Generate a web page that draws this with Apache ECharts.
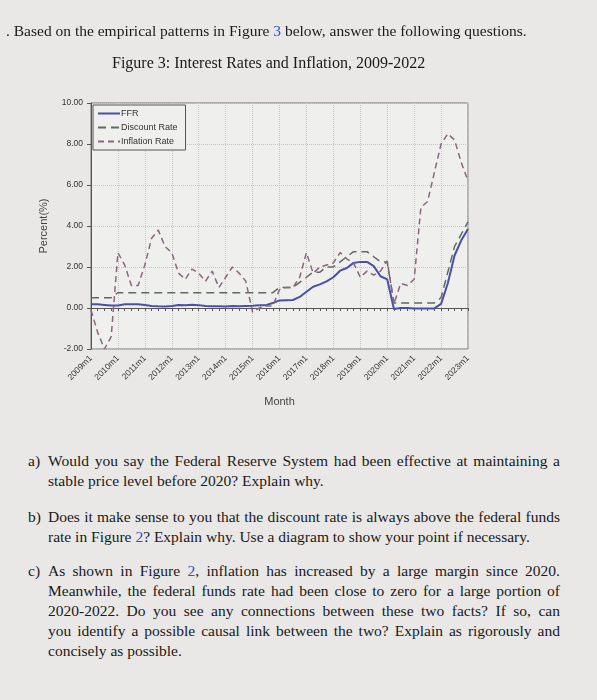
<!DOCTYPE html><html><head><meta charset="utf-8">
<script src="https://cdn.jsdelivr.net/npm/echarts@6/dist/echarts.min.js"></script>
<style>
body{margin:0;width:597px;height:700px;background:#e9e8e6;font-family:"Liberation Serif","DejaVu Serif",serif;color:#1a1a1a;overflow:hidden;position:relative}
.t{position:absolute;font-size:15.5px;white-space:nowrap}
.j{position:absolute;left:48px;width:512px;font-size:15.5px;text-align:justify;text-align-last:justify;white-space:nowrap}
.l{text-align-last:left}
#c{position:absolute;left:0;top:0;width:597px;height:430px}
</style></head><body>
<div id="c"></div>
<div class="t" style="left:6px;top:22px">. Based on the empirical patterns in Figure <span style="color:#2a55c0">3</span> below, answer the following questions.</div>
<div class="t" style="left:112px;top:54px;font-size:16px">Figure 3: Interest Rates and Inflation, 2009-2022</div>
<div class="t" style="left:28px;top:452px">a)</div>
<div class="j" style="top:452px">Would you say the Federal Reserve System had been effective at maintaining a</div>
<div class="j l" style="top:472px">stable price level before 2020? Explain why.</div>
<div class="t" style="left:28px;top:508px">b)</div>
<div class="j" style="top:508px">Does it make sense to you that the discount rate is always above the federal funds</div>
<div class="j l" style="top:528px">rate in Figure <span style="color:#2a55c0">2</span>? Explain why. Use a diagram to show your point if necessary.</div>
<div class="t" style="left:28px;top:562px">c)</div>
<div class="j" style="top:562px">As shown in Figure <span style="color:#2a55c0">2</span>, inflation has increased by a large margin since 2020.</div>
<div class="j" style="top:582px">Meanwhile, the federal funds rate had been close to zero for a large portion of</div>
<div class="j" style="top:602px">2020-2022. Do you see any connections between these two facts? If so, can</div>
<div class="j" style="top:622px">you identify a possible causal link between the two? Explain as rigorously and</div>
<div class="j l" style="top:642px">concisely as possible.</div>
<script>
const years=[2009,2010,2011,2012,2013,2014,2015,2016,2017,2018,2019,2020,2021,2022];
const months=["m1","m4","m7","m10"];
const categories=[];years.forEach(y=>months.forEach(m=>categories.push(y+m)));categories.push("2023m1");
const ffr=[0.18,0.18,0.15,0.12, 0.12,0.18,0.18,0.18, 0.15,0.1,0.08,0.07, 0.1,0.15,0.14,0.16, 0.14,0.1,0.08,0.09, 0.07,0.1,0.09,0.1, 0.11,0.13,0.14,0.24, 0.37,0.38,0.39,0.54, 0.79,1.04,1.15,1.30, 1.5,1.82,1.95,2.2, 2.25,2.25,2.04,1.55, 1.4,-0.05,0.0,0.0, -0.02,-0.02,-0.02,-0.02, 0.2,1.21,2.56,3.3, 3.85];
const discount=[0.5,0.5,0.5,0.5, 0.75,0.75,0.75,0.75, 0.75,0.75,0.75,0.75, 0.75,0.75,0.75,0.75, 0.75,0.75,0.75,0.75, 0.75,0.75,0.75,0.75, 0.75,0.75,0.75,0.75, 1.0,1.0,1.0,1.25, 1.5,1.75,1.75,2.0, 2.0,2.25,2.5,2.75, 2.75,2.75,2.5,2.25, 2.25,0.25,0.25,0.25, 0.25,0.25,0.25,0.25, 0.5,1.75,3.0,3.6, 4.2];
const inflation=[-0.1,-1.2,-2.0,-1.4, 2.7,2.1,1.1,1.1, 2.1,3.4,3.8,3.0, 2.7,1.7,1.4,1.9, 1.7,1.3,1.8,1.0, 1.5,2.0,1.7,1.3, -0.2,0.0,0.1,0.1, 0.9,1.0,1.0,1.5, 2.7,1.7,2.0,2.1, 2.2,2.7,2.4,2.2, 1.5,1.8,1.6,1.8, 2.3,0.2,1.2,1.1, 1.4,4.9,5.2,6.6, 8.0,8.5,8.2,7.1, 6.2];
const yTicks=[-2,0,2,4,6,8,10];
const ch=echarts.init(document.getElementById('c'));
const gl={show:true,lineStyle:{type:'dotted',color:'#c4c4c4'}};
ch.setOption({
 animation:false,
 grid:{left:91,right:129,top:103,bottom:430-349,backgroundColor:'#efefed',show:true,borderColor:'#777',borderWidth:1},
 legend:{left:93,top:105,orient:'vertical',itemGap:5,itemWidth:22,itemHeight:8,backgroundColor:'#efefed',borderColor:'#555',borderWidth:1,padding:[4,8,4,4],
  itemStyle:{opacity:0},
  textStyle:{fontFamily:'Liberation Sans',fontSize:9,color:'#333',padding:[0,0,0,-4]},
  data:['FFR','Discount Rate','Inflation Rate']},
 xAxis:{type:'category',data:categories,boundaryGap:false,name:'Month',nameLocation:'middle',nameGap:47,
  nameTextStyle:{fontFamily:'Liberation Sans',fontSize:11,color:'#444'},
  axisLine:{lineStyle:{color:'#555'}},axisTick:{show:true,alignWithLabel:true,interval:0,length:3,lineStyle:{color:'#555'}},
  axisLabel:{interval:3,rotate:45,fontFamily:'Liberation Sans',fontSize:8.5,color:'#333'},
  splitLine:{show:true,interval:3,lineStyle:{type:'dotted',color:'#c4c4c4'}}},
 yAxis:{type:'value',min:-2,max:10,interval:2,name:'Percent(%)',nameLocation:'middle',nameGap:42,
  nameTextStyle:{fontFamily:'Liberation Sans',fontSize:11,color:'#444'},
  axisLine:{show:true,lineStyle:{color:'#555'}},axisTick:{show:true,length:4},
  axisLabel:{formatter:v=>yTicks.includes(v)?v.toFixed(2):'',fontFamily:'Liberation Sans',fontSize:8.5,color:'#333'},
  splitLine:gl},
 series:[
  {name:'FFR',type:'line',data:ffr,symbol:'none',color:'#4a50a8',lineStyle:{width:2,color:'#4a50a8'}},
  {name:'Discount Rate',type:'line',data:discount,symbol:'none',color:'#5e6a62',lineStyle:{width:1.5,type:[8,5],color:'#5e6a62'}},
  {name:'Inflation Rate',type:'line',data:inflation,symbol:'none',color:'#8a6680',lineStyle:{width:1.5,type:[6,4],color:'#8a6680'}}
 ]});
</script></body></html>
